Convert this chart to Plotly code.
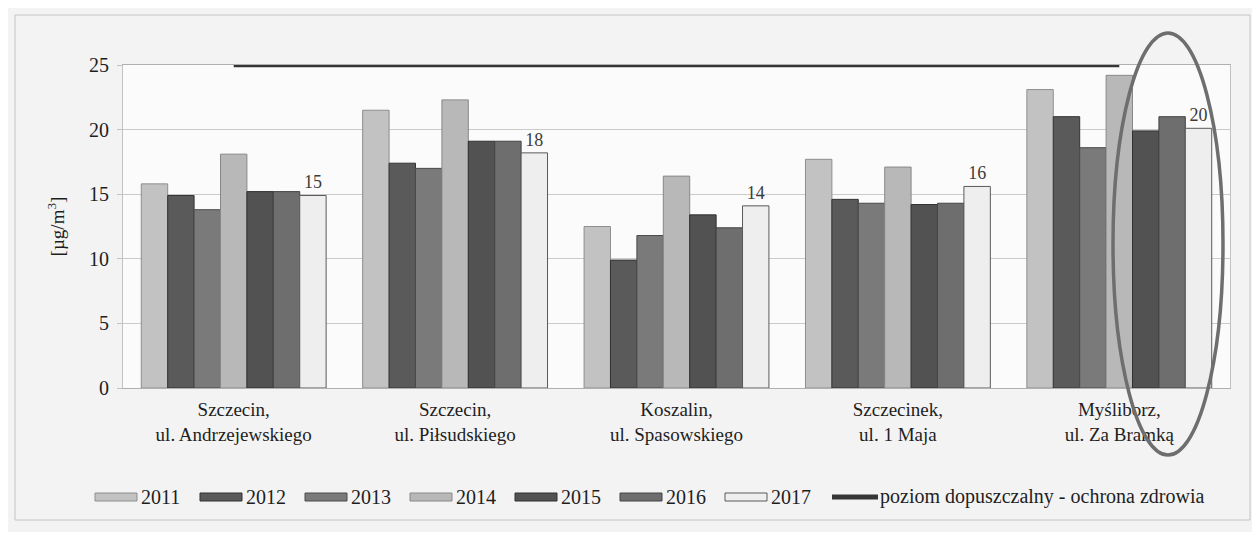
import plotly.graph_objects as go

categories = ["Szczecin,<br>ul. Andrzejewskiego", "Szczecin,<br>ul. Piłsudskiego",
              "Koszalin,<br>ul. Spasowskiego", "Szczecinek,<br>ul. 1 Maja",
              "Myśliborz,<br>ul. Za Bramką"]
years = ["2011", "2012", "2013", "2014", "2015", "2016", "2017"]
v2011 = [15.8, 21.5, 12.5, 17.7, 23.1]
v2012 = [14.9, 17.4, 9.9, 14.6, 21.0]
v2013 = [13.8, 17.0, 11.8, 14.3, 18.6]
v2014 = [18.1, 22.3, 16.4, 17.1, 24.2]
v2015 = [15.2, 19.1, 13.4, 14.2, 19.9]
v2016 = [15.2, 19.1, 12.4, 14.3, 21.0]
v2017 = [14.9, 18.2, 14.1, 15.6, 20.1]
limit_value = 25
limit_name = "poziom dopuszczalny - ochrona zdrowia"
y_ticks = [0, 5, 10, 15, 20, 25]

series = [v2011, v2012, v2013, v2014, v2015, v2016, v2017]
colors = ["#c2c2c2", "#5a5a5a", "#7a7a7a", "#b8b8b8", "#525252", "#6e6e6e", "#eeeeee"]
edges = ["#8e8e8e", "#333333", "#4a4a4a", "#888888", "#303030", "#444444", "#5a5a5a"]
LINE_COLOR = "#353535"

FONT = "Liberation Serif"
TXT = "#1e1e1e"

# page geometry (px on the 1244x524 figure, page offset 8px)
W, H = 1244, 524
L, R, T, B = 115, 22, 57, 144
PX0, PX1 = 8 + L, 8 + W - R
PY0, PY1 = 8 + T, 8 + H - B


def xp(px):
    return (px - PX0) / (PX1 - PX0)


def yp(py):
    return (PY1 - py) / (PY1 - PY0)


fig = go.Figure()
for i, (yr, vals) in enumerate(zip(years, series)):
    kw = {}
    if yr == "2017":
        kw = dict(text=vals, texttemplate="%{y:.0f}", textposition="outside",
                  textfont=dict(family=FONT, size=18, color="#3c3c3c"), cliponaxis=False)
    fig.add_trace(go.Bar(name=yr, x=categories, y=vals, showlegend=False,
                         marker=dict(color=colors[i], line=dict(color=edges[i], width=1)),
                         **kw))

fig.add_trace(go.Scatter(name=limit_name, x=categories, y=[limit_value] * len(categories),
                         mode="lines", showlegend=False,
                         line=dict(color=LINE_COLOR, width=4.5)))

# custom legend with wide swatches, as in the reference
shapes = []
annotations = []
leg_y = 497
pitch = 105
x_start = 95
for i, yr in enumerate(years):
    sx = x_start + pitch * i
    shapes.append(dict(type="rect", xref="paper", yref="paper",
                       x0=xp(sx), x1=xp(sx + 42), y0=yp(leg_y + 4), y1=yp(leg_y - 4),
                       fillcolor=colors[i], line=dict(color=edges[i], width=1)))
    annotations.append(dict(x=xp(sx + 44), y=yp(leg_y), xref="paper", yref="paper",
                            text=yr, showarrow=False, xanchor="left", yanchor="middle",
                            font=dict(family=FONT, size=20, color=TXT)))
sx = x_start + pitch * len(years)
shapes.append(dict(type="line", xref="paper", yref="paper",
                   x0=xp(sx + 2), x1=xp(sx + 48), y0=yp(leg_y), y1=yp(leg_y),
                   line=dict(color=LINE_COLOR, width=5)))
annotations.append(dict(x=xp(sx + 48), y=yp(leg_y), xref="paper", yref="paper",
                        text=limit_name, showarrow=False, xanchor="left", yanchor="middle",
                        font=dict(family=FONT, size=20, color=TXT)))

# outer frame and highlight ellipse
shapes.append(dict(type="rect", xref="paper", yref="paper",
                   x0=xp(15), x1=xp(1250), y0=yp(520), y1=yp(15),
                   line=dict(color="#c4c4c4", width=1), layer="below"))
shapes.append(dict(type="circle", xref="paper", yref="paper",
                   x0=xp(1113), x1=xp(1223), y0=yp(455), y1=yp(33),
                   line=dict(color="#6e6e6e", width=3.5)))

fig.update_layout(
    width=W, height=H,
    margin=dict(l=L, r=R, t=T, b=B),
    barmode="group", bargap=0.165, bargroupgap=0,
    paper_bgcolor="#f3f3f3", plot_bgcolor="#fbfbfb",
    font=dict(family=FONT, size=19, color=TXT),
    showlegend=False,
    xaxis=dict(showgrid=False, showline=True, linecolor="#b0b0b0", mirror=True,
               ticks="", ticklabelstandoff=4,
               tickfont=dict(family=FONT, size=19, color=TXT)),
    yaxis=dict(range=[0, 25], tickvals=y_ticks, showgrid=True, gridcolor="#cacaca",
               showline=True, linecolor="#c2c2c2", mirror=True, ticks="outside",
               ticklen=5, tickcolor="#c2c2c2", zeroline=False, ticklabelstandoff=4,
               tickfont=dict(family=FONT, size=20, color=TXT),
               title=dict(text="[µg/m<sup>3</sup>]", standoff=19,
                          font=dict(family=FONT, size=19, color=TXT))),
    shapes=shapes,
    annotations=annotations,
)

fig.write_html("out.html")
